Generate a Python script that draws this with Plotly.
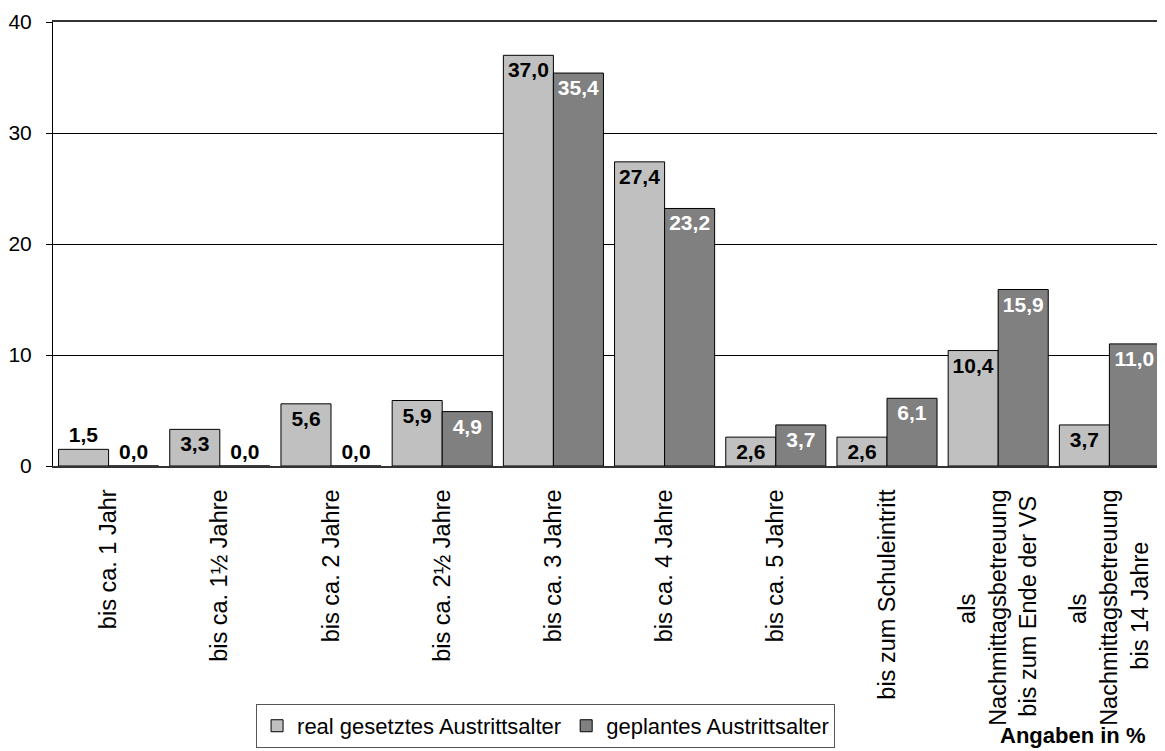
import plotly.graph_objects as go

categories = [
    "bis ca. 1 Jahr",
    "bis ca. 1½ Jahre",
    "bis ca. 2 Jahre",
    "bis ca. 2½ Jahre",
    "bis ca. 3 Jahre",
    "bis ca. 4 Jahre",
    "bis ca. 5 Jahre",
    "bis zum Schuleintritt",
    "als<br>Nachmittagsbetreuung<br>bis zum Ende der VS",
    "als<br>Nachmittagsbetreuung<br>bis 14 Jahre",
]
real_values = [1.5, 3.3, 5.6, 5.9, 37.0, 27.4, 2.6, 2.6, 10.4, 3.7]
planned_values = [0.0, 0.0, 0.0, 4.9, 35.4, 23.2, 3.7, 6.1, 15.9, 11.0]
series_names = ["real gesetztes Austrittsalter", "geplantes Austrittsalter"]
y_ticks = [0, 10, 20, 30, 40]

FONT = "Arial, Liberation Sans, sans-serif"

# approximate Arial advance widths (per 1000 em) used to centre multi-line tick labels
_W = dict(zip("abcdefghijklmnopqrstuvwxyz",
              [556, 556, 500, 556, 556, 278, 556, 556, 222, 222, 500, 222, 833,
               556, 556, 556, 556, 333, 500, 278, 556, 500, 722, 500, 500, 500]))
_W.update(dict(zip("ABCDEFGHIJKLMNOPQRSTUVWXYZ",
                   [667, 667, 722, 722, 667, 611, 778, 722, 278, 500, 667, 556, 833,
                    722, 778, 667, 778, 722, 667, 611, 722, 667, 944, 667, 667, 611])))
_W.update({c: 556 for c in "0123456789"})
_W.update({" ": 278, ".": 278, ",": 278, "½": 834})


def _width(s):
    return sum(_W.get(ch, 556) for ch in s)


def centre_lines(label):
    lines = label.split("<br>")
    if len(lines) == 1:
        return label
    wmax = max(_width(l) for l in lines)
    out = []
    for l in lines:
        n = int(round((wmax - _width(l)) / 2 / 278))
        out.append(l + "\u00a0" * n)
    return "<br>".join(out)


def fmt(v):
    return f"{v:.1f}".replace(".", ",")


def positions(vals):
    return ["inside" if v >= 2 else "outside" for v in vals]


LABEL_SIZE = 21

fig = go.Figure()
fig.add_trace(go.Bar(
    x=categories, y=real_values, name=series_names[0],
    marker=dict(color="#C0C0C0", line=dict(color="#000000", width=1)),
    text=[fmt(v) for v in real_values], textposition=positions(real_values),
    insidetextanchor="end",
    insidetextfont=dict(color="#000000", size=LABEL_SIZE, family=FONT, weight="bold"),
    outsidetextfont=dict(color="#000000", size=LABEL_SIZE, family=FONT, weight="bold"),
    cliponaxis=False,
))
fig.add_trace(go.Bar(
    x=categories, y=planned_values, name=series_names[1],
    marker=dict(color="#808080", line=dict(color="#000000", width=1)),
    text=[fmt(v) for v in planned_values], textposition=positions(planned_values),
    insidetextanchor="end",
    insidetextfont=dict(color="#FFFFFF", size=LABEL_SIZE, family=FONT, weight="bold"),
    outsidetextfont=dict(color="#000000", size=LABEL_SIZE, family=FONT, weight="bold"),
    cliponaxis=False,
))

# the page body adds an 8px offset, so the figure is sized to fit the window
fig.update_layout(
    width=1157, height=743,
    margin=dict(l=45, r=0, t=14, b=285),
    paper_bgcolor="white", plot_bgcolor="white",
    barmode="group", bargap=0.1, bargroupgap=0.0,
    separators=",.",
    font=dict(family=FONT, size=20, color="#000000"),
    uniformtext=dict(minsize=LABEL_SIZE, mode="show"),
    showlegend=True,
    legend=dict(
        orientation="h", x=0.1826, y=-0.635, xanchor="left", yanchor="bottom",
        bordercolor="#555555", borderwidth=1,
        font=dict(family=FONT, size=22, color="#000000"),
        itemwidth=30, tracegroupgap=0,
    ),
    annotations=[dict(
        text="<b>Angaben in %</b>", xref="paper", yref="paper",
        x=0.917, y=-0.606, xanchor="center", yanchor="middle",
        showarrow=False, font=dict(family=FONT, size=22, color="#000000"),
    )],
)

fig.update_xaxes(
    type="category", tickangle=-90, showgrid=False, automargin=False,
    tickmode="array", tickvals=categories,
    ticktext=[centre_lines(c) for c in categories],
    showline=True, linecolor="#333333", linewidth=2, mirror=True,
    ticks="", ticklabelstandoff=12,
    tickfont=dict(family=FONT, size=23.5, color="#000000"),
)
fig.update_yaxes(
    range=[0, 40], tickvals=y_ticks, showgrid=True, gridcolor="#000000", gridwidth=1,
    showline=True, linecolor="#000000", linewidth=1, zeroline=False, automargin=False,
    ticks="outside", ticklen=6, tickcolor="#000000", ticklabelstandoff=10,
    tickfont=dict(family=FONT, size=21, color="#000000"),
)

fig.write_html("out.html")
